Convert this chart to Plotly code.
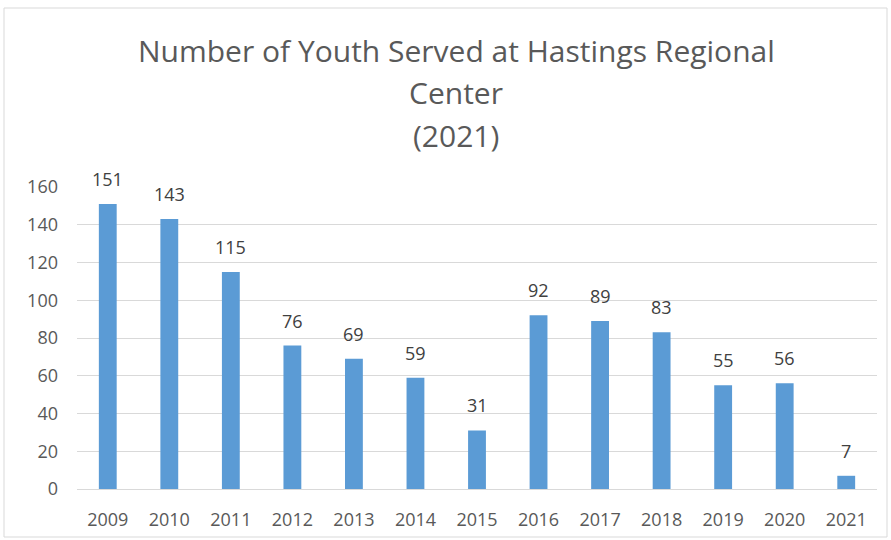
import plotly.graph_objects as go

years = ["2009", "2010", "2011", "2012", "2013", "2014", "2015", "2016", "2017", "2018", "2019", "2020", "2021"]
youth_served = [151, 143, 115, 76, 69, 59, 31, 92, 89, 83, 55, 56, 7]
title_lines = ["Number of Youth Served at Hastings Regional", "Center", "(2021)"]

FONT = "Open Sans"

fig = go.Figure(go.Bar(
    x=years, y=youth_served,
    marker=dict(color="#5B9BD5", line=dict(width=0)),
    cliponaxis=False,
))

# plot area: x 77-877, y 187-489
L, R, T, B = 77, 14, 187, 51
W, H = 891 - L - R, 540 - T - B

def px(x):
    return (x - L) / W

def py(y):
    return (540 - B - y) / H

annotations = []
for text, yc in zip(title_lines, [50, 93, 135]):
    annotations.append(dict(
        text=text, xref="paper", yref="paper", x=px(456), y=py(yc),
        xanchor="center", yanchor="middle", showarrow=False,
        font=dict(family=FONT, size=30, color="#595959"),
    ))

# data labels (x given as category index on the category axis)
for i, v in enumerate(youth_served):
    annotations.append(dict(
        text=str(v), x=i, y=v, xref="x", yref="y",
        xanchor="center", yanchor="bottom", yshift=11, showarrow=False,
        font=dict(family=FONT, size=18, color="#404040"),
    ))

fig.update_layout(
    width=891, height=540,
    margin=dict(l=L, r=R, t=T, b=B, autoexpand=False),
    paper_bgcolor="white", plot_bgcolor="white",
    bargap=0.71,
    showlegend=False,
    annotations=annotations,
    shapes=[dict(type="rect", xref="paper", yref="paper",
                 x0=px(4), x1=px(887), y0=py(537), y1=py(8),
                 line=dict(color="#D9D9D9", width=1), layer="below")],
    xaxis=dict(type="category", categoryorder="array", categoryarray=years,
               range=[-0.5, len(years) - 0.5],
               showgrid=False, showline=True, linecolor="#D9D9D9", linewidth=1,
               tickfont=dict(family=FONT, size=18, color="#595959"),
               ticks="", ticklabelstandoff=14, automargin=False),
    yaxis=dict(range=[0, 160], dtick=20, showgrid=True, gridcolor="#D9D9D9",
               gridwidth=1, zeroline=False, showline=False,
               tickfont=dict(family=FONT, size=18, color="#595959"),
               ticks="", ticklabelstandoff=18, automargin=False),
)

fig.write_html("out.html", config={"displayModeBar": False},
               post_script="document.body.style.margin='0';document.body.style.overflow='hidden';")
